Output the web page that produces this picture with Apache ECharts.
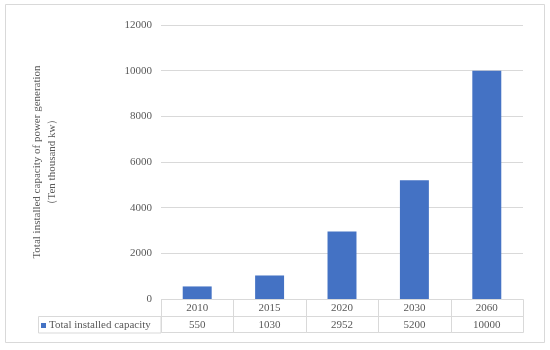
<!DOCTYPE html>
<html>
<head>
<meta charset="utf-8">
<script src="https://cdn.jsdelivr.net/npm/echarts@6/dist/echarts.min.js"></script>
<style>
html,body{margin:0;padding:0;background:#fff;}
#c{width:550px;height:350px;}
</style>
</head>
<body>
<div id="c"></div>
<script>
var years = ['2010', '2015', '2020', '2030', '2060'];
var capacity = [550, 1030, 2952, 5200, 10000];
var seriesName = 'Total installed capacity';
var yTitle = 'Total installed capacity of power generation\n（Ten thousand kw）';

var FONT = '"Liberation Serif", "Times New Roman", serif';
var TXT = '#595959';
var LINE = '#d9d9d9';
var BAR = '#4472C4';

var chart = echarts.init(document.getElementById('c'), null, {renderer: 'canvas'});

var tableData = capacity.map(function (v, i) { return [i, v]; });

chart.setOption({
  animation: false,
  backgroundColor: '#fff',
  grid: [
    {left: 161, right: 27, top: 25, height: 274, containLabel: false},
    {left: 161, right: 27, top: 299, height: 34, containLabel: false}
  ],
  legend: {
    data: [seriesName],
    left: 41,
    top: 320,
    padding: 0,
    icon: 'rect',
    itemWidth: 5,
    itemHeight: 5,
    itemGap: 4,
    textStyle: {fontFamily: FONT, fontSize: 11, color: TXT, padding: [0, 0, 0, -2]}
  },
  xAxis: [
    {gridIndex: 0, type: 'category', data: years, axisLine: {show: false}, axisTick: {show: false}, axisLabel: {show: false}},
    {gridIndex: 1, type: 'category', data: years, show: false}
  ],
  yAxis: [
    {
      gridIndex: 0, type: 'value', min: 0, max: 12000, interval: 2000,
      axisLine: {show: false}, axisTick: {show: false},
      axisLabel: {fontFamily: FONT, fontSize: 11, color: TXT, margin: 9, formatter: function (v) { return String(v); }},
      splitLine: {lineStyle: {color: LINE, width: 1}},
      name: yTitle,
      nameLocation: 'middle',
      nameGap: 101,
      nameRotate: 90,
      nameTextStyle: {fontFamily: FONT, fontSize: 11, color: TXT, lineHeight: 15, align: 'center'}
    },
    {gridIndex: 1, type: 'value', min: 0, max: 2, show: false, inverse: true}
  ],
  graphic: [
    {type: 'rect', shape: {x: 5.5, y: 4.5, width: 539, height: 338}, style: {fill: 'none', stroke: LINE, lineWidth: 1}, silent: true},
    {type: 'rect', shape: {x: 38.5, y: 316.5, width: 122.5, height: 16.5}, style: {fill: 'none', stroke: LINE, lineWidth: 1}, silent: true}
  ],
  series: [
    {
      name: seriesName,
      type: 'bar',
      xAxisIndex: 0, yAxisIndex: 0,
      data: capacity,
      barWidth: '40%',
      itemStyle: {color: BAR}
    },
    {
      name: 'table',
      type: 'custom',
      xAxisIndex: 1, yAxisIndex: 1,
      data: tableData,
      silent: true,
      renderItem: function (params, api) {
        var idx = api.value(0);
        var val = api.value(1);
        var w = api.size([1, 0])[0];
        var pTop = api.coord([idx, 0]);
        var pMid = api.coord([idx, 1]);
        var pBot = api.coord([idx, 2]);
        var x0 = Math.round(pTop[0] - w / 2) + 0.5;
        var x1 = Math.round(pTop[0] + w / 2) + 0.5;
        var yT = Math.round(pTop[1]) + 0.5;
        var yM = Math.round(pMid[1]) + 0.5;
        var yB = Math.round(pBot[1]) - 0.5;
        return {
          type: 'group',
          children: [
            {type: 'rect', shape: {x: x0, y: yT, width: x1 - x0, height: yM - yT}, style: {fill: 'none', stroke: LINE, lineWidth: 1}},
            {type: 'rect', shape: {x: x0, y: yM, width: x1 - x0, height: yB - yM}, style: {fill: 'none', stroke: LINE, lineWidth: 1}},
            {type: 'text', style: {x: pTop[0], y: (yT + yM) / 2 + 0.5, text: years[idx], align: 'center', verticalAlign: 'middle', font: '11px ' + FONT, fill: TXT}},
            {type: 'text', style: {x: pTop[0], y: (yM + yB) / 2 + 0.5, text: String(val), align: 'center', verticalAlign: 'middle', font: '11px ' + FONT, fill: TXT}}
          ]
        };
      }
    }
  ]
});
</script>
</body>
</html>
